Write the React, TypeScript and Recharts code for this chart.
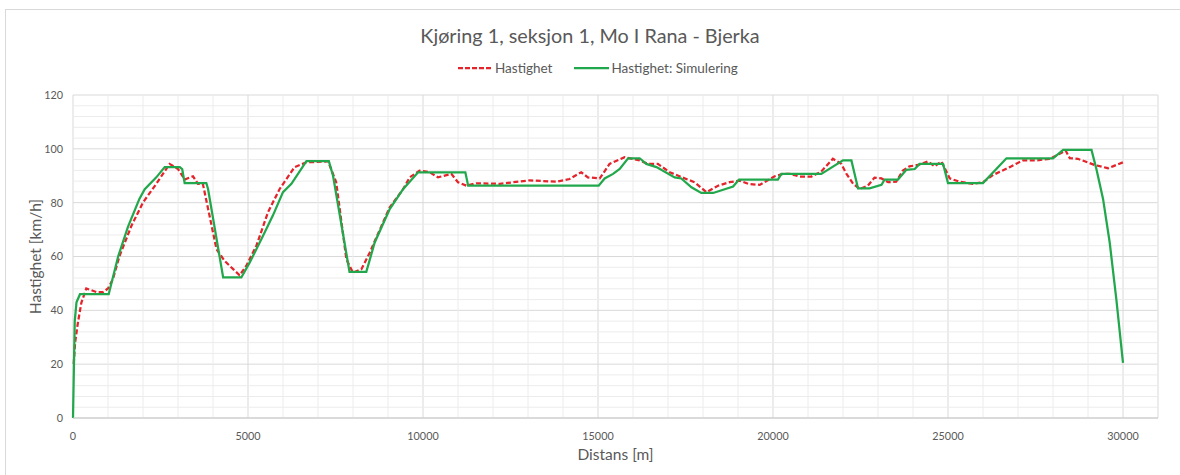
import { LineChart, Line, XAxis, YAxis, CartesianGrid, ReferenceLine, Label } from 'recharts';

// Hastighet (målt) - distanse i meter, fart i km/h
const measuredDist = [20, 60, 140, 240, 380, 520, 670, 860, 1000, 1140, 1330, 1670, 2000, 2380, 2760, 3000, 3190, 3430, 3570, 3710, 3900, 4100, 4330, 4760, 4950, 5240, 5570, 5900, 6330, 6670, 7290, 7520, 7810, 8000, 8240, 8480, 9050, 9430, 9620, 9900, 10190, 10430, 10810, 11000, 11240, 11520, 12190, 13050, 13810, 14190, 14520, 14710, 15050, 15330, 15760, 16190, 16430, 16710, 17050, 17520, 17760, 18100, 18430, 18760, 19050, 19290, 19620, 20050, 20290, 20480, 20760, 21100, 21380, 21710, 21950, 22100, 22290, 22480, 22710, 22900, 23100, 23290, 23520, 23710, 23900, 24140, 24430, 24620, 24810, 25050, 25330, 25710, 26000, 26290, 26760, 27140, 27520, 27900, 28100, 28360, 28480, 28710, 29190, 29570, 29710, 30000];
const measuredSpeed = [20, 28, 35.4, 42.9, 48.1, 47.5, 46.8, 46.8, 48.1, 51.6, 60.2, 71.4, 80.1, 87, 94.4, 92.5, 88.6, 89.8, 87, 87, 75.2, 62.7, 58.4, 53, 56.5, 64, 76.4, 85, 93.2, 95, 95.3, 87.6, 59, 54, 55.3, 61.5, 78.3, 85, 89.4, 91.9, 91.3, 89.4, 90.7, 87.6, 86.3, 87.2, 87, 88.3, 87.8, 88.8, 91.3, 89.4, 89, 94.4, 96.9, 95.7, 94.4, 94.4, 91.3, 88.8, 87.6, 83.9, 86.3, 87.6, 88.2, 87, 86.6, 89.8, 90.7, 90.7, 89.7, 89.7, 91.6, 96.3, 94.4, 90.7, 87, 85.1, 86.3, 89.3, 89, 87.6, 87.8, 91.9, 93.5, 94, 95.3, 93.5, 95.3, 89, 87.8, 87, 87.6, 90.3, 93.2, 95.7, 95.7, 96.3, 97.5, 99.4, 96.5, 96.3, 94, 92.8, 93.5, 95];

// Hastighet: Simulering
const simDist = [0, 50, 100, 200, 1020, 1290, 1570, 1900, 2050, 2380, 2620, 3050, 3120, 3190, 3810, 3860, 4290, 4810, 5050, 5430, 5710, 6000, 6240, 6670, 7310, 7430, 7900, 8380, 8620, 9050, 9430, 9860, 11210, 11290, 15020, 15190, 15430, 15620, 15860, 16190, 16380, 16670, 17190, 17380, 17670, 17950, 18290, 18860, 19030, 20140, 20240, 21380, 22000, 22240, 22430, 22760, 23100, 23190, 23570, 23810, 24050, 24190, 24860, 25000, 26000, 26670, 28000, 28290, 29100, 29240, 29430, 29620, 29810, 30000];
const simSpeed = [0, 36, 43, 46, 46, 60, 71, 81.5, 85, 89.4, 93.2, 93.2, 92.5, 87.3, 87.3, 85, 52.2, 52.2, 57.8, 67.7, 75.2, 83.9, 87, 95.4, 95.4, 90, 54.3, 54.3, 65.2, 77.6, 85, 91.3, 91.3, 86.3, 86.3, 89, 90.7, 92.5, 96.5, 96.5, 94.4, 93.2, 89.4, 89, 85.7, 83.6, 83.6, 86, 88.6, 88.6, 90.7, 90.7, 95.7, 95.7, 85.3, 85.3, 86.6, 88.6, 88.6, 92.2, 92.5, 94.4, 94.4, 87.3, 87.3, 96.5, 96.5, 99.6, 99.6, 92.5, 81.4, 65.2, 44.1, 20.5];

const xTicks = [0, 5000, 10000, 15000, 20000, 25000, 30000];
const yTicks = [0, 20, 40, 60, 80, 100, 120];
const xMinor = [1000, 2000, 3000, 4000, 6000, 7000, 8000, 9000, 11000, 12000, 13000, 14000, 16000, 17000, 18000, 19000, 21000, 22000, 23000, 24000, 26000, 27000, 28000, 29000, 31000];
const yMinor = [4, 8, 12, 16, 24, 28, 32, 36, 44, 48, 52, 56, 64, 68, 72, 76, 84, 88, 92, 96, 104, 108, 112, 116];

const measured = measuredDist.map((d, i) => ({ dist: d, speed: measuredSpeed[i] }));
const simulated = simDist.map((d, i) => ({ dist: d, speed: simSpeed[i] }));

const FONT = 'Lato, "Open Sans", sans-serif';
const GREY = '#595959';
const RED = '#e3242b';
const GREEN = '#22a84c';

export default function App() {
  return (
    <div style={{ position: 'absolute', left: 0, top: 0, width: 1180, height: 475, background: '#fff', fontFamily: FONT, overflow: 'hidden' }}>
      {/* ramme rundt diagrammet */}
      <div style={{ position: 'absolute', left: 5, top: 9, width: 1200, height: 500, borderLeft: '1.5px solid #d9d9d9', borderTop: '1.5px solid #d9d9d9' }} />

      <div style={{ position: 'absolute', left: 0, top: 23, width: 1180, textAlign: 'center', fontSize: 19.8, color: GREY }}>
        Kjøring 1, seksjon 1, Mo I Rana - Bjerka
      </div>

      {/* legend */}
      <div style={{ position: 'absolute', left: 458, top: 60, display: 'flex', alignItems: 'center', fontSize: 13.5, color: GREY }}>
        <svg width={35} height={4}>
          <line x1={0} y1={2} x2={35} y2={2} stroke={RED} strokeWidth={2.25} strokeDasharray="5 2" />
        </svg>
        <span style={{ marginLeft: 2 }}>Hastighet</span>
        <svg width={35} height={4} style={{ marginLeft: 22 }}>
          <line x1={0} y1={2} x2={35} y2={2} stroke={GREEN} strokeWidth={2.25} />
        </svg>
        <span style={{ marginLeft: 2 }}>Hastighet: Simulering</span>
      </div>

      <LineChart width={1180} height={475} margin={{ top: 95, right: 22, bottom: 27, left: 23 }} style={{ position: 'absolute', left: 0, top: 0 }}>
        {yMinor.map((v) => (
          <ReferenceLine key={'y' + v} y={v} stroke="#ececec" strokeWidth={1} />
        ))}
        {xMinor.map((v) => (
          <ReferenceLine key={'x' + v} x={v} stroke="#ececec" strokeWidth={1} />
        ))}
        <CartesianGrid stroke="#d9d9d9" />
        <XAxis
          dataKey="dist"
          type="number"
          domain={[0, 31000]}
          ticks={xTicks}
          allowDuplicatedCategory={false}
          height={30}
          stroke="#c8c8c8"
          tickLine={false}
          tickSize={0}
          tickMargin={14}
          tick={{ fill: GREY, fontSize: 10.8, fontFamily: FONT }}
        >
          <Label value="Distans [m]" position="bottom" offset={1} style={{ fill: GREY, fontSize: 15.5, fontFamily: FONT }} />
        </XAxis>
        <YAxis
          type="number"
          domain={[0, 120]}
          ticks={yTicks}
          width={50}
          axisLine={false}
          tickLine={false}
          tickSize={0}
          tickMargin={10}
          tick={{ fill: GREY, fontSize: 10.8, fontFamily: FONT }}
        >
          <Label value="Hastighet [km/h]" angle={-90} position="insideLeft" offset={12} style={{ fill: GREY, fontSize: 15.5, fontFamily: FONT, textAnchor: 'middle' }} />
        </YAxis>
        <Line
          data={measured}
          dataKey="speed"
          name="Hastighet"
          type="linear"
          stroke={RED}
          strokeWidth={2.25}
          strokeDasharray="5 2.5"
          dot={false}
          isAnimationActive={false}
        />
        <Line
          data={simulated}
          dataKey="speed"
          name="Hastighet: Simulering"
          type="linear"
          stroke={GREEN}
          strokeWidth={2.25}
          dot={false}
          isAnimationActive={false}
        />
      </LineChart>
    </div>
  );
}
